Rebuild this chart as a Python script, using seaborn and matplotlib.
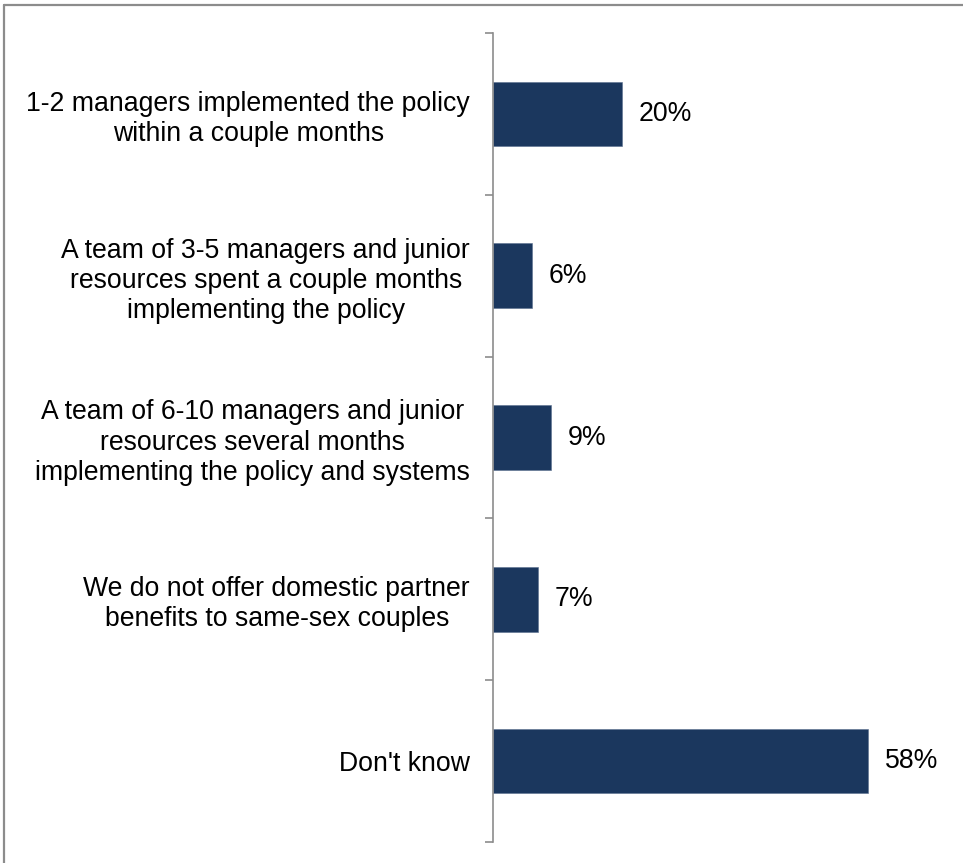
import matplotlib
matplotlib.use("Agg")
import matplotlib.pyplot as plt
from matplotlib.lines import Line2D
from matplotlib.ticker import FixedLocator
import seaborn as sns
import pandas as pd

categories = [
    "1-2 managers implemented the policy\nwithin a couple months",
    "A team of 3-5 managers and junior\nresources spent a couple months\nimplementing the policy",
    "A team of 6-10 managers and junior\nresources several months\nimplementing the policy and systems",
    "We do not offer domestic partner\nbenefits to same-sex couples",
    "Don't know",
]
values = [20, 6, 9, 7, 58]
value_labels = ["20%", "6%", "9%", "7%", "58%"]

sns.set_theme(style="white")
plt.rcParams["font.family"] = ["Liberation Sans", "DejaVu Sans"]

W, H = 963, 863
fig = plt.figure(figsize=(W / 100, H / 100), dpi=100)
ax = fig.add_axes([493 / W, 1 - 842 / H, (959 - 493) / W, (842 - 33) / H])

df = pd.DataFrame({"category": categories, "value": values})
sns.barplot(data=df, x="value", y="category", orient="h", color="#1B375E",
            width=0.4, saturation=1, ax=ax, edgecolor="#5a6f8e", linewidth=0.4)

ax.set_xlim(0, 72)
n = len(categories)
ax.set_ylim(n - 0.5, -0.5)

for s in ("top", "right", "bottom"):
    ax.spines[s].set_visible(False)
ax.spines["left"].set_color("#8c8c8c")
ax.spines["left"].set_linewidth(1.2)

ax.set_xticks([])
ax.set_xlabel("")
ax.set_ylabel("")

# Boundary ticks between categories, labels centred on each bar
ax.yaxis.set_major_locator(FixedLocator([i - 0.5 for i in range(n + 1)]))
ax.yaxis.set_minor_locator(FixedLocator(list(range(n))))
ax.set_yticklabels([""] * (n + 1))
ax.set_yticklabels(categories, minor=True)
ax.tick_params(axis="y", which="major", left=True, length=6, width=1.2,
               color="#8c8c8c", direction="out")
ax.tick_params(axis="y", which="minor", left=True, length=0, pad=16.5,
               labelsize=19.2, labelcolor="black")
for lbl in ax.get_yticklabels(minor=True):
    lbl.set_multialignment("center")
    lbl.set_linespacing(1.21)

ax.bar_label(ax.containers[0], labels=value_labels, padding=12,
             fontsize=19.2, color="black")

# Outer frame lines (top and left)
fig.add_artist(Line2D([4 / W, 1], [1 - 5 / H, 1 - 5 / H], color="#8c8c8c",
                      linewidth=1.6, transform=fig.transFigure))
fig.add_artist(Line2D([4 / W, 4 / W], [0, 1 - 5 / H], color="#8c8c8c",
                      linewidth=1.6, transform=fig.transFigure))

fig.savefig("out.png", dpi=100, facecolor="white")
